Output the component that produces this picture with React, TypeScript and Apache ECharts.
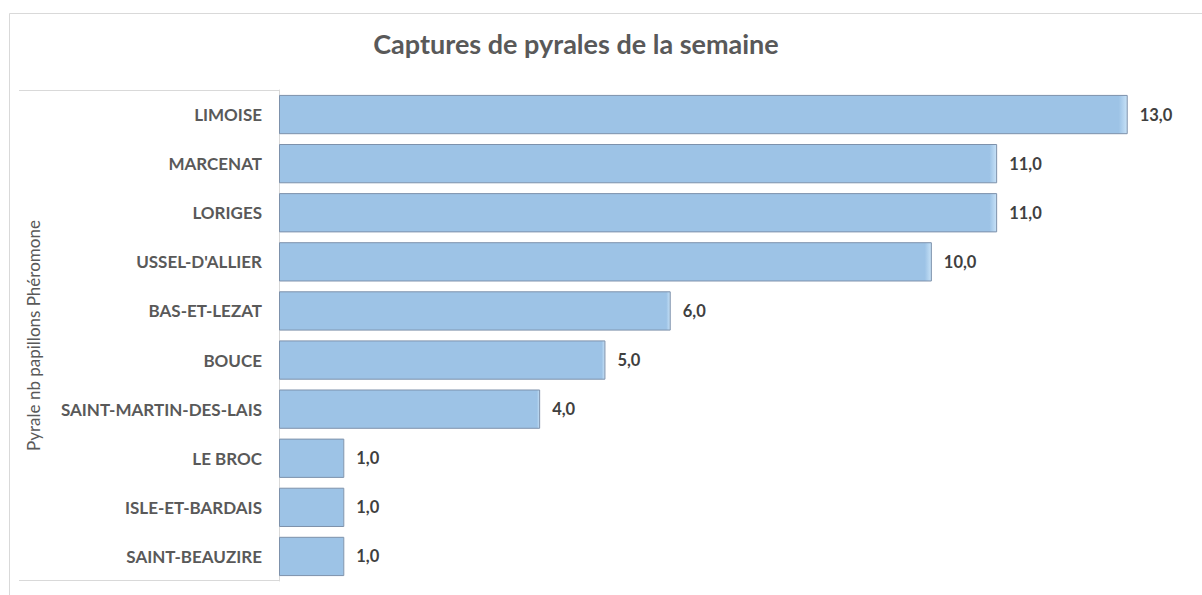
import React, { useEffect, useRef } from "react";
import * as echarts from "echarts";

const categories = [
  "LIMOISE",
  "MARCENAT",
  "LORIGES",
  "USSEL-D'ALLIER",
  "BAS-ET-LEZAT",
  "BOUCE",
  "SAINT-MARTIN-DES-LAIS",
  "LE BROC",
  "ISLE-ET-BARDAIS",
  "SAINT-BEAUZIRE",
];
const values = [13, 11, 11, 10, 6, 5, 4, 1, 1, 1];
const titleText = "Captures de pyrales de la semaine";
const axisName = "Pyrale nb papillons Phéromone";

export default function App() {
  const ref = useRef<HTMLDivElement>(null);
  useEffect(() => {
    if (!ref.current) return;
    const chart = echarts.init(ref.current, undefined, { renderer: "svg" });
    const font = "Lato, 'Open Sans', sans-serif";
    chart.setOption({
      animation: false,
      backgroundColor: "#ffffff",
      title: {
        text: titleText,
        left: 571,
        top: 25,
        textAlign: "center",
        textStyle: { fontFamily: font, fontSize: 27, fontWeight: "bold", color: "#595959" },
      },
      grid: { left: 279, top: 90, width: 914, height: 491, containLabel: false },
      xAxis: {
        type: "value",
        min: 0,
        max: 14,
        show: false,
      },
      yAxis: {
        type: "category",
        data: categories,
        inverse: true,
        name: axisName,
        nameLocation: "middle",
        nameGap: 237,
        nameTextStyle: { fontFamily: font, fontSize: 17, color: "#595959" },
        axisLine: { show: true, lineStyle: { color: "#d9d9d9", width: 1 } },
        axisTick: { show: false },
        axisLabel: {
          fontFamily: font,
          fontSize: 17,
          fontWeight: "bold",
          color: "#595959",
          margin: 17,
        },
        splitLine: { show: false },
      },
      series: [
        {
          type: "bar",
          data: values,
          barWidth: "80%",
          itemStyle: {
            color: new echarts.graphic.LinearGradient(0, 0, 1, 0, [
              { offset: 0, color: "#9dc3e6" },
              { offset: 0.99, color: "#9dc3e6" },
              { offset: 1, color: "#c8e2f7" },
            ]),
            borderColor: "#7d91ab",
            borderWidth: 1,
          },
          label: {
            show: true,
            position: "right",
            distance: 12,
            formatter: (p: any) => p.value.toFixed(1).replace(".", ","),
            fontFamily: font,
            fontSize: 16.5,
            fontWeight: "bold",
            color: "#404040",
          },
        },
      ],
      graphic: [
        {
          type: "polyline",
          silent: true,
          shape: { points: [[9.5, 620], [9.5, 13.5], [1210, 13.5]] },
          style: { stroke: "#d9d9d9", fill: null, lineWidth: 1 },
        },
        {
          type: "line",
          silent: true,
          shape: { x1: 19, y1: 90.5, x2: 279, y2: 90.5 },
          style: { stroke: "#d9d9d9", lineWidth: 1 },
        },
        {
          type: "line",
          silent: true,
          shape: { x1: 19, y1: 580.5, x2: 279, y2: 580.5 },
          style: { stroke: "#d9d9d9", lineWidth: 1 },
        },
      ],
    });
    return () => chart.dispose();
  }, []);
  return (
    <div
      ref={ref}
      style={{ position: "fixed", left: 0, top: 0, width: 1202, height: 595 }}
    />
  );
}
